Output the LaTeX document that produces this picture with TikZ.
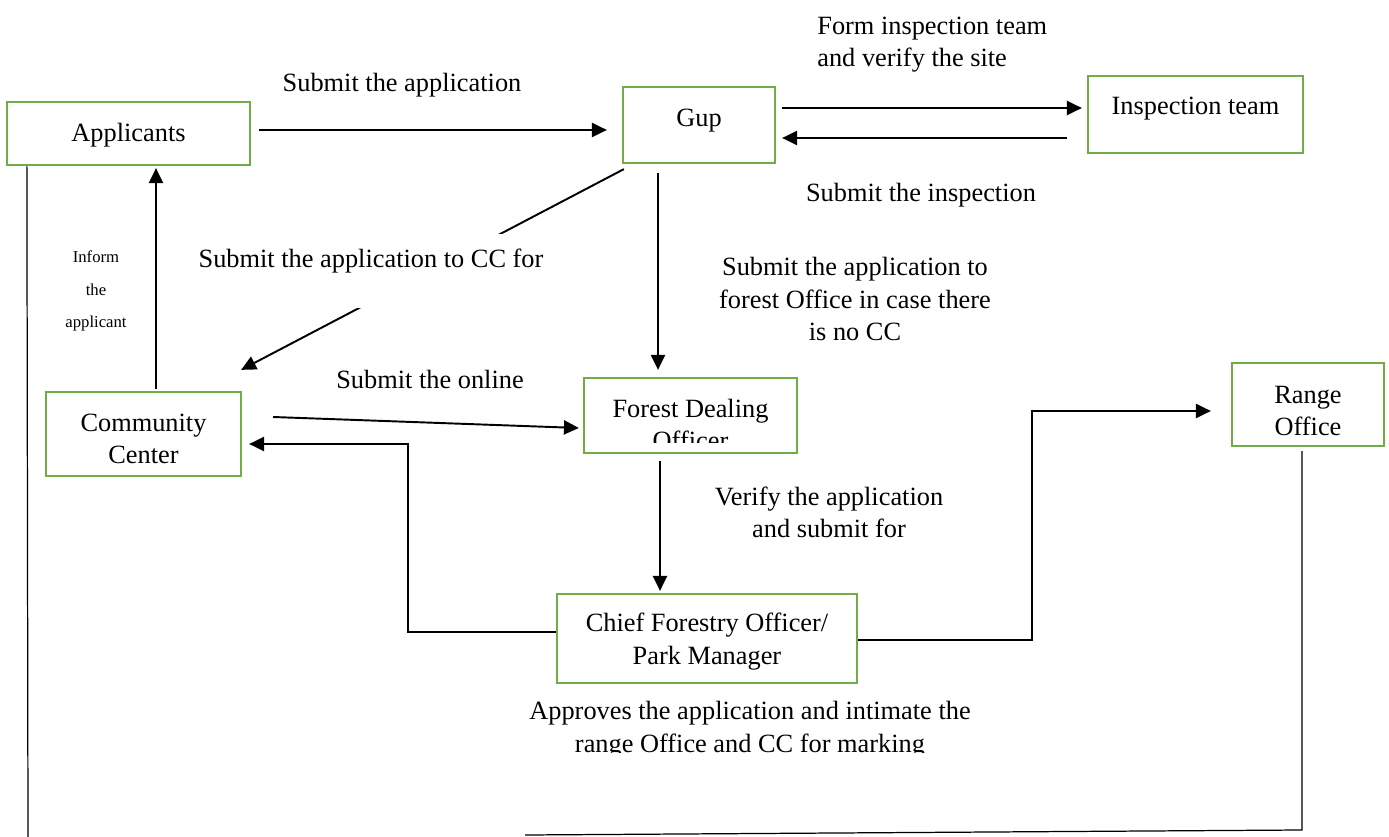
\documentclass[tikz,border=0pt]{standalone}
\usepackage{fontspec}
\setmainfont{Liberation Serif}
\usetikzlibrary{arrows.meta, calc}
\definecolor{boxgreen}{RGB}{112,173,71}

\begin{document}
\begin{tikzpicture}[x=0.02cm, y=-0.02cm, font=\fontsize{15}{18.7}\selectfont,
  box/.style={draw=boxgreen, line width=1.3pt, inner sep=0pt},
  txt/.style={anchor=base, align=center, inner sep=0pt},
  arr/.style={line width=1.1pt, -{Triangle[length=8.5pt, width=8pt]}},
  thinline/.style={line width=0.7pt}]

  \useasboundingbox (0,0) rectangle (1389,837);

  % boxes
  \node[box, minimum width=4.86cm, minimum height=1.26cm] (app) at (128.5,133.5) {};
  \node[box, minimum width=3.04cm, minimum height=1.52cm] (gup) at (699,125) {};
  \node[box, minimum width=4.3cm, minimum height=1.54cm] (insp) at (1195.5,114.5) {};
  \node[box, minimum width=3.9cm, minimum height=1.68cm] (cc) at (143.5,434) {};
  \node[box, minimum width=4.26cm, minimum height=1.5cm] (fdo) at (690.5,415.5) {};
  \node[box, minimum width=6cm, minimum height=1.78cm] (cfo) at (707,638.5) {};
  \node[box, minimum width=3.04cm, minimum height=1.66cm] (range) at (1308,404.5) {};

  \node[txt] (apptxt) at (128.5,142) {Applicants};
  \node[txt] (guptxt) at (699,127) {Gup};
  \node[txt] (insptxt) at (1195.5,115) {Inspection team};
  \node[txt] (cctxt) at (143.5,464) {Community\\Center};
  \node[txt] (cfotxt) at (707,664) {Chief Forestry Officer/\\Park Manager};
  \node[txt] (rangetxt) at (1308,436) {Range\\Office};
  \begin{scope}
    \clip (584,378) rectangle (797,443);
    \node[txt] (fdotxt) at (690.5,450) {Forest Dealing\\Officer};
  \end{scope}

  \coordinate (bendcc) at (408,444);
  \coordinate (bendro) at (1032,411);
  \coordinate (leftend) at (28,837);
  \coordinate (botcorner) at (1302,830);
  \coordinate (botend) at (525,835);

  % connectors
  \draw[arr] ($(app.east)+(8,-3.5)$) -- ($(gup.west)+(-15,5)$);
  \draw[arr] ($(gup.east)+(6,-17)$) -- ($(insp.west)+(-5,-6.5)$);
  \draw[arr] ($(insp.west)+(-20,23.5)$) -- ($(gup.east)+(6,13)$);
  \draw[arr] ($(gup.south west)+(2,5)$) -- ($(cc.north east)+(-1,-21)$);
  \draw[arr] ($(gup.south)+(-41,9)$) -- ($(fdo.north)+(-32.5,-7)$);
  \draw[arr] ($(cc.north)+(12.5,-2)$) -- ($(app.south)+(27.5,2)$);
  \draw[arr] ($(cc.east)+(31,-17)$) -- ($(fdo.west)+(-4,12.5)$);
  \draw[arr] ($(fdo.south)+(-30.5,7)$) -- ($(cfo.north)+(-47,-2)$);
  \draw[arr] ($(cfo.west)+(0,-6.5)$) -| (bendcc) -- ($(cc.east)+(7,10)$);
  \draw[arr] ($(cfo.east)+(0,1.5)$) -| (bendro) -- ($(range.west)+(-20,6.5)$);
  \draw[thinline] ($(app.south west)+(21,0)$) -- (leftend);
  \draw[thinline] ($(range.south)+(-6,4)$) -- (botcorner) -- (botend);

  % labels
  \node[txt] (lblsubmit) at (402,92) {Submit the application};
  \node[txt, anchor=base west, align=left] (lblform) at (817,67) {Form inspection team\\and verify the site};
  \node[txt] (lblinsp) at (921,202) {Submit the inspection};
  \node[txt, fill=white, inner ysep=9pt, inner xsep=5pt, text depth=14pt] (lblcc) at (371,268) {Submit the application to CC for};
  \node[txt] (lblforest) at (855,341) {Submit the application to\\forest Office in case there\\is no CC};
  \node[txt] (lblonline) at (430,389) {Submit the online};
  \node[txt] (lblverify) at (829,538) {Verify the application\\and submit for};
  \node[txt, font=\fontsize{9.5}{18.7}\selectfont] (lblinform) at (96,328) {Inform\\the\\applicant};
  \begin{scope}
    \clip (400,690) rectangle (1100,752);
    \node[txt] (lblapprove) at (750,752) {Approves the application and intimate the\\range Office and CC for marking};
  \end{scope}
\end{tikzpicture}
\end{document}
